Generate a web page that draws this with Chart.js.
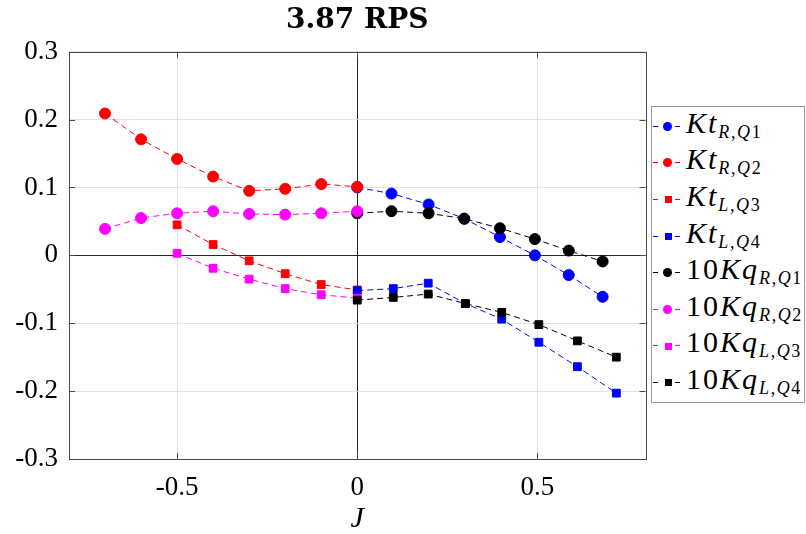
<!DOCTYPE html>
<html>
<head>
<meta charset="utf-8">
<title>3.87 RPS</title>
<script src="https://cdn.jsdelivr.net/npm/chart.js@4/dist/chart.umd.min.js"></script>
<style>
  html, body { margin: 0; padding: 0; background: #fff; }
  #wrap { position: relative; width: 806px; height: 534px; }
  #legend {
    position: absolute; left: 651px; top: 106px; width: 154px; height: 297px;
    border: 1px solid #9a9a9a; background: #fff; box-sizing: border-box;
    padding-top: 1px; overflow: visible;
    font-family: "Liberation Serif", "Times New Roman", serif; color: #000;
  }
  .row { display: flex; align-items: center; height: 36.6px; white-space: nowrap; }
  .sample { position: relative; width: 30px; height: 10px; margin-right: 4px; flex: none; }
  .sample .dash { position: absolute; top: 4.5px; height: 1px; }
  .sample .mk { position: absolute; }
  .lbl { font-size: 30px; letter-spacing: 2px; line-height: 1; position: relative; top: -2px; }
  .lbl i { font-style: italic; }
  .lbl sub { font-size: 18px; vertical-align: -5px; letter-spacing: 1.6px; }
</style>
</head>
<body>
<div id="wrap">
  <canvas id="chart" width="806" height="534"></canvas>
  <div id="legend"></div>
</div>
<script>
// ── Data ───────────────────────────────────────────────────────────────────────
const J_Q1 = [0, 0.095, 0.198, 0.297, 0.396, 0.493, 0.587, 0.681];
const J_Q2 = [-0.7, -0.6, -0.5, -0.4, -0.3, -0.2, -0.1, 0];
const J_Q3 = [-0.5, -0.4, -0.3, -0.2, -0.1, 0];
const J_Q4 = [0, 0.1, 0.197, 0.3, 0.401, 0.504, 0.611, 0.719];

const KT_R_Q1 = [0.100, 0.091, 0.075, 0.054, 0.027, 0.000, -0.029, -0.061];
const KT_R_Q2 = [0.209, 0.171, 0.142, 0.116, 0.095, 0.098, 0.105, 0.101];
const KT_L_Q3 = [0.045, 0.016, -0.008, -0.027, -0.043, -0.051];
const KT_L_Q4 = [-0.052, -0.049, -0.041, -0.071, -0.094, -0.128, -0.164, -0.203];

const KQ10_R_Q1 = [0.062, 0.065, 0.062, 0.054, 0.040, 0.024, 0.007, -0.009];
const KQ10_R_Q2 = [0.039, 0.055, 0.062, 0.065, 0.061, 0.060, 0.062, 0.065];
const KQ10_L_Q3 = [0.003, -0.019, -0.035, -0.049, -0.058, -0.063];
const KQ10_L_Q4 = [-0.066, -0.062, -0.057, -0.071, -0.084, -0.102, -0.126, -0.150];

const X_TICKS = [-0.5, 0, 0.5];
const Y_TICKS = [0.3, 0.2, 0.1, 0, -0.1, -0.2, -0.3];

// legend text: prefix (upright), symbol (italic), subscript parts
const SERIES = [
  { pre: '',   sym: 'Kt', side: 'R', quad: '1', j: J_Q1, y: KT_R_Q1,   color: '#0000ff', style: 'circle' },
  { pre: '',   sym: 'Kt', side: 'R', quad: '2', j: J_Q2, y: KT_R_Q2,   color: '#ff0000', style: 'circle' },
  { pre: '',   sym: 'Kt', side: 'L', quad: '3', j: J_Q3, y: KT_L_Q3,   color: '#ff0000', style: 'rect' },
  { pre: '',   sym: 'Kt', side: 'L', quad: '4', j: J_Q4, y: KT_L_Q4,   color: '#0000ff', style: 'rect' },
  { pre: '10', sym: 'Kq', side: 'R', quad: '1', j: J_Q1, y: KQ10_R_Q1, color: '#000000', style: 'circle' },
  { pre: '10', sym: 'Kq', side: 'R', quad: '2', j: J_Q2, y: KQ10_R_Q2, color: '#ff00ff', style: 'circle' },
  { pre: '10', sym: 'Kq', side: 'L', quad: '3', j: J_Q3, y: KQ10_L_Q3, color: '#ff00ff', style: 'rect' },
  { pre: '10', sym: 'Kq', side: 'L', quad: '4', j: J_Q4, y: KQ10_L_Q4, color: '#000000', style: 'rect' },
];

const SERIF = '"Liberation Serif", "Times New Roman", serif';

// ── Box + inward tick marks, title centred over the axes ───────────────────────
const framePlugin = {
  id: 'frame',
  afterLayout(chart) {
    const t = chart.titleBlock;
    if (t) { t.left = chart.chartArea.left; t.right = chart.chartArea.right; }
  },
  beforeDatasetsDraw(chart) {
    const { ctx, chartArea: a, scales: { x, y } } = chart;
    const len = 6;
    ctx.save();
    ctx.strokeStyle = '#4a4a4a';
    ctx.lineWidth = 1;
    ctx.beginPath();
    for (const v of X_TICKS) {
      const px = Math.round(x.getPixelForValue(v)) + 0.5;
      ctx.moveTo(px, a.bottom); ctx.lineTo(px, a.bottom - len);
      ctx.moveTo(px, a.top);    ctx.lineTo(px, a.top + len);
    }
    for (const v of Y_TICKS) {
      const py = Math.round(y.getPixelForValue(v)) + 0.5;
      ctx.moveTo(a.left, py);  ctx.lineTo(a.left + len, py);
      ctx.moveTo(a.right, py); ctx.lineTo(a.right - len, py);
    }
    ctx.stroke();
    ctx.strokeRect(Math.round(a.left) + 0.5, Math.round(a.top) + 0.5,
                   Math.round(a.right - a.left), Math.round(a.bottom - a.top));
    ctx.restore();
  },
};

const gridColor = (c) => (c.tick && c.tick.value === 0 ? '#262626' : '#e3e3e3');

const datasets = SERIES.map((s, i) => ({
  label: `${s.pre}${s.sym}_${s.side},Q${s.quad}`,
  data: s.j.map((j, k) => ({ x: j, y: s.y[k] })),
  borderColor: s.color,
  backgroundColor: s.color,
  borderWidth: 1,
  borderDash: [6, 4],
  pointStyle: s.style,
  pointRadius: 5.5,
  pointBorderWidth: 1,
  pointBackgroundColor: s.color,
  pointBorderColor: s.color,
  tension: 0,
  fill: false,
  order: SERIES.length - i,   // later series sit on top
}));

new Chart(document.getElementById('chart'), {
  type: 'line',
  data: { datasets },
  plugins: [framePlugin],
  options: {
    responsive: false,
    animation: false,
    events: [],
    layout: { padding: { left: 0, right: 160.5, top: 0, bottom: 0 } },
    plugins: {
      legend: { display: false },
      tooltip: { enabled: false },
      title: {
        display: true,
        text: '3.87 RPS',
        color: '#000',
        font: { family: '"DejaVu Serif", serif', size: 28, weight: 'bold', lineHeight: 1.2 },
        padding: { top: 4, bottom: 14.1 },
      },
    },
    scales: {
      x: {
        type: 'linear',
        min: -0.8,
        max: 0.8,
        afterBuildTicks: (sc) => { sc.ticks = X_TICKS.map(v => ({ value: v })); },
        afterFit: (sc) => { sc.height = 75; },
        ticks: {
          padding: 13,
          color: '#000',
          font: { family: SERIF, size: 27 },
          maxRotation: 0,
          callback: (v) => String(v),
        },
        grid: { color: gridColor, drawTicks: false, lineWidth: 1 },
        border: { display: false },
        title: {
          display: true,
          text: 'J',
          color: '#000',
          font: { family: SERIF, size: 30, style: 'italic', lineHeight: 1.0 },
          padding: { top: 0, bottom: 0 },
        },
      },
      y: {
        type: 'linear',
        min: -0.3,
        max: 0.3,
        afterBuildTicks: (sc) => { sc.ticks = Y_TICKS.map(v => ({ value: v })); },
        afterFit: (sc) => { sc.width = 69; },
        ticks: {
          padding: 11,
          color: '#000',
          font: { family: SERIF, size: 27 },
          callback: (v) => String(Math.round(v * 10) / 10),
        },
        grid: { color: gridColor, drawTicks: false, lineWidth: 1 },
        border: { display: false },
      },
    },
  },
});

// ── Legend ─────────────────────────────────────────────────────────────────────
const legendEl = document.getElementById('legend');
for (const s of SERIES) {
  const row = document.createElement('div');
  row.className = 'row';
  const dashBg = `repeating-linear-gradient(90deg, ${s.color} 0 5px, transparent 5px 8px)`;
  const mk = s.style === 'circle'
    ? `<span class="mk" style="left:11px;top:0.5px;width:9px;height:9px;border-radius:50%;background:${s.color}"></span>`
    : `<span class="mk" style="left:12.5px;top:2px;width:7px;height:7px;background:${s.color}"></span>`;
  row.innerHTML = `
    <span class="sample">
      <span class="dash" style="left:1px;width:7px;background:${dashBg}"></span>
      <span class="dash" style="left:23px;width:7px;background:${dashBg}"></span>
      ${mk}
    </span>
    <span class="lbl">${s.pre}<i>${s.sym}</i><sub><i>${s.side}</i>,<i>Q</i>${s.quad}</sub></span>`;
  legendEl.appendChild(row);
}
</script>
</body>
</html>
